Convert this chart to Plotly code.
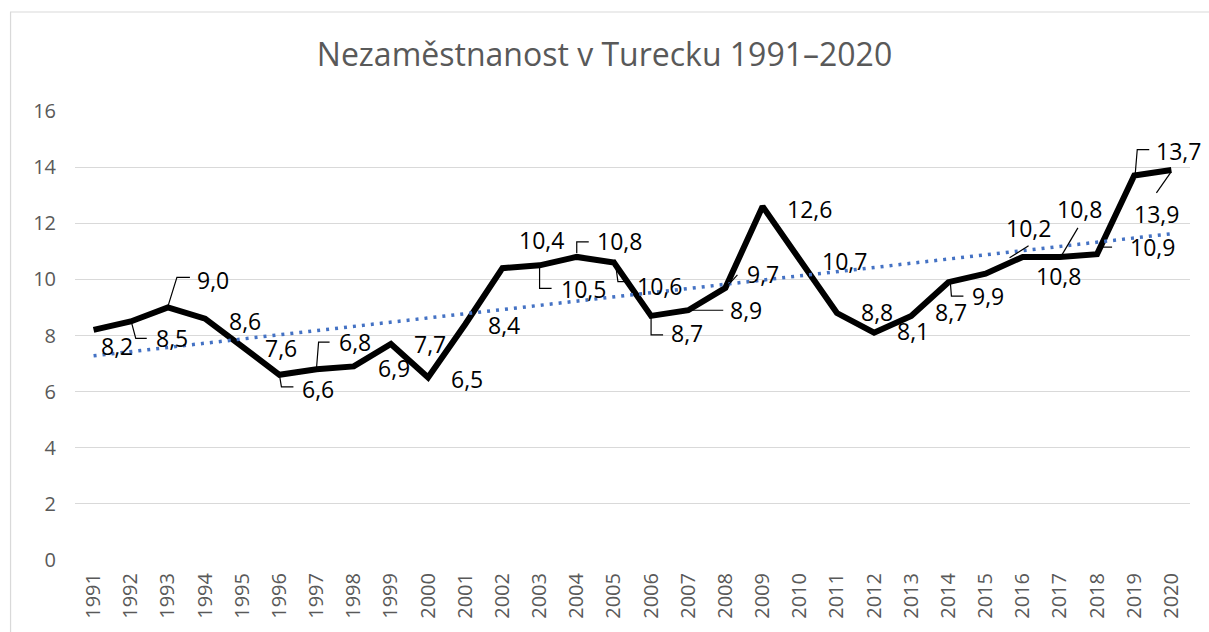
import numpy as np
import plotly.graph_objects as go

# ---------------- data ----------------
years = list(range(1991, 2021))
unemployment = [8.2, 8.5, 9.0, 8.6, 7.6, 6.6, 6.8, 6.9, 7.7, 6.5,
                8.4, 10.4, 10.5, 10.8, 10.6, 8.7, 8.9, 9.7, 12.6, 10.7,
                8.8, 8.1, 8.7, 9.9, 10.2, 10.8, 10.8, 10.9, 13.7, 13.9]
y_tick_values = [0, 2, 4, 6, 8, 10, 12, 14, 16]
title_text = "Nezaměstnanost v Turecku 1991–2020"

# ---------------- label placement (pixels, screen y downwards) ----------------
label_offsets = [(23, 17), (41, 18), (45, -26), (40, 3), (39, 2), (39, 15), (38, -26), (40, 3),
                 (39, 1), (39, 2), (39, 2), (39, -27), (44, 25), (43, -15), (46, 24), (36, 18),
                 (58, 1), (38, -13), (47, 4), (45, 2), (40, 0), (39, -1), (40, -3), (40, 15),
                 (43, -45), (36, 20), (20, -47), (55, -6), (44, -24), (-15, 45)]
leader_paths = {
    1992: [(1, 2), (5, 17), (16, 17)],
    1993: [(0, -1), (9, -30), (22, -30)],
    1996: [(0, 0), (2, 12), (14, 12)],
    1997: [(0, -2), (2, -27), (13, -27)],
    2003: [(0, -2), (0, 23), (12, 23)],
    2004: [(0, -4), (0, -15), (12, -15)],
    2005: [(1, -3), (4, 19), (13, 19)],
    2006: [(0, 0), (0, 19), (12, 19)],
    2007: [(2, 0), (35, 0)],
    2008: [(2, -2), (12, -13)],
    2014: [(2, 1), (3, 14), (15, 14)],
    2015: [(24, -16), (43, -28)],
    2017: [(2, -2), (18, -29)],
    2018: [(6, -7), (15, -7)],
    2019: [(1, -2), (3, -26), (15, -26)],
    2020: [(-1, 3), (-15, 23)],
}

# linear trend (like Excel's linear trendline)
coef = np.polyfit(years, unemployment, 1)
trend = np.polyval(coef, years)

fig = go.Figure()
fig.add_trace(go.Scatter(
    x=years, y=unemployment, mode="lines",
    line=dict(color="black", width=6), showlegend=False, hoverinfo="x+y"))
fig.add_trace(go.Scatter(
    x=years, y=trend, mode="lines",
    line=dict(color="#4472C4", width=3.5, dash="3px,6px"), showlegend=False,
    hoverinfo="skip"))

annotations = []
shapes = []
for yr, val, (dx, dy) in zip(years, unemployment, label_offsets):
    annotations.append(dict(
        x=yr, y=val, xref="x", yref="y",
        text=f"{val:.1f}".replace(".", ","),
        showarrow=False, xanchor="center", yanchor="middle",
        xshift=dx, yshift=-dy + 1,
        font=dict(family="Open Sans, Arial", size=23, color="black")))
    if yr in leader_paths:
        pts = leader_paths[yr]
        path = "M " + " L ".join(f"{px},{-py}" for px, py in pts)
        shapes.append(dict(
            type="path", xref="x", yref="y",
            xsizemode="pixel", ysizemode="pixel",
            xanchor=yr, yanchor=val, path=path,
            line=dict(color="black", width=1.2)))

# chart border
shapes.append(dict(type="rect", xref="paper", yref="paper",
                   x0=-0.0578, x1=1.3, y0=-0.4, y1=1.2205,
                   line=dict(color="#d9d9d9", width=1.2), layer="below"))

fig.update_layout(
    width=1209, height=632,
    margin=dict(l=75, r=19, t=111, b=72),
    paper_bgcolor="white", plot_bgcolor="white",
    title=dict(text=title_text, x=0.5, xanchor="center", y=0.913, yanchor="middle",
               font=dict(family="Open Sans, Arial", size=32, color="#595959")),
    xaxis=dict(range=[1990.5, 2020.5], tickmode="array", tickvals=years,
               ticktext=[str(y) for y in years], tickangle=-90,
               showgrid=False, zeroline=False, showline=False, ticks="",
               tickfont=dict(family="Open Sans, Arial", size=20, color="#595959"),
               ticklabelstandoff=8),
    yaxis=dict(range=[0, 16], tickvals=y_tick_values, showgrid=True,
               gridcolor="#d9d9d9", gridwidth=1.2, zeroline=False, showline=False,
               ticks="", tickfont=dict(family="Open Sans, Arial", size=20, color="#595959"),
               ticklabelstandoff=18),
    annotations=annotations, shapes=shapes,
    showlegend=False,
)

fig.write_html("out.html", config={"displayModeBar": False},
               post_script="document.body.style.margin='0';document.body.style.overflow='hidden';")
